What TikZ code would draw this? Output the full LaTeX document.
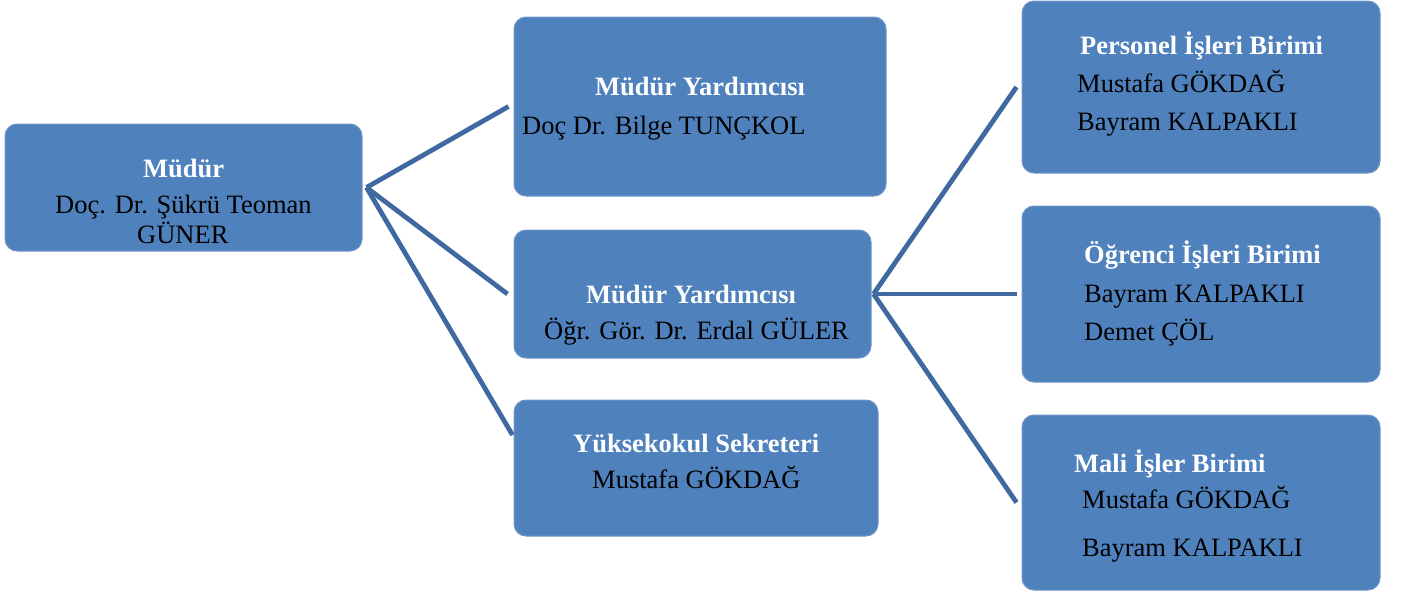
\documentclass[tikz,border=0pt]{standalone}
\usepackage{fontspec}
\setmainfont{Liberation Serif}
\usepackage{tikz}
\usetikzlibrary{positioning}
\definecolor{boxblue}{HTML}{4F81BD}
\definecolor{boxedge}{HTML}{7096C8}
\definecolor{linkblue}{HTML}{3F69A0}
\tikzset{>=stealth}

\begin{document}
\begin{tikzpicture}[x=1pt, y=-1pt,
    font=\fontsize{26.5pt}{32pt}\selectfont,
    unitbox/.style={draw=boxedge, line width=1pt, fill=boxblue, rounded corners=12pt, inner sep=0pt},
    heading/.style={anchor=base west, inner sep=0pt, text=white, font=\fontsize{26.5pt}{32pt}\selectfont\bfseries},
    person/.style={anchor=base west, inner sep=0pt, text=black},
    link/.style={draw=linkblue, line width=4.8pt}]

			\useasboundingbox (0,0) rectangle (1401,598);

			% kutular
			\node[unitbox, minimum width=357pt, minimum height=127pt] (mudur) at (183.5,187.5) {};
			\node[unitbox, minimum width=372pt, minimum height=179pt] (my1) at (700,106.5) {};
			\node[unitbox, minimum width=357pt, minimum height=128pt] (my2) at (692.5,294) {};
			\node[unitbox, minimum width=364pt, minimum height=136pt] (ys) at (696,468) {};
			\node[unitbox, minimum width=358pt, minimum height=172pt] (pib) at (1201,87) {};
			\node[unitbox, minimum width=358pt, minimum height=176pt] (oib) at (1201,294) {};
			\node[unitbox, minimum width=358pt, minimum height=175pt] (mib) at (1201,502.5) {};

			% yazilar
			\node[heading] (mudurT) at (143,177) {Müdür};
			\node[person] (mudurA) at (55,213) {Doç. Dr. Şükrü Teoman};
			\node[person] (mudurB) at (137,243) {GÜNER};

			\node[heading] (my1T) at (595,95) {Müdür Yardımcısı};
			\node[person] (my1A) at (522,134) {Doç Dr. Bilge TUNÇKOL};

			\node[heading] (my2T) at (586,303) {Müdür Yardımcısı};
			\node[person] (my2A) at (544,339) {Öğr. Gör. Dr. Erdal GÜLER};

			\node[heading] (ysT) at (573,452) {Yüksekokul Sekreteri};
			\node[person] (ysA) at (592,488) {Mustafa GÖKDAĞ};

			\node[heading] (pibT) at (1080,54) {Personel İşleri Birimi};
			\node[person] (pibA) at (1077,92) {Mustafa GÖKDAĞ};
			\node[person] (pibB) at (1077,130) {Bayram KALPAKLI};

			\node[heading] (oibT) at (1084,263) {Öğrenci İşleri Birimi};
			\node[person] (oibA) at (1084,302) {Bayram KALPAKLI};
			\node[person] (oibB) at (1084,340) {Demet ÇÖL};

			\node[heading] (mibT) at (1074,472) {Mali İşler Birimi};
			\node[person] (mibA) at (1082,508) {Mustafa GÖKDAĞ};
			\node[person] (mibB) at (1082,556) {Bayram KALPAKLI};

			% baglantilar
			\coordinate (hub1) at ([xshift=4pt]mudur.east);
			\coordinate (hub2) at ([xshift=2pt]my2.east);
			\draw[link] (hub1) -- ([xshift=-5pt]my1.west);
			\draw[link] (hub1) -- ([xshift=-6pt]my2.west);
			\draw[link] (hub1) -- ([xshift=-1pt, yshift=33pt]ys.west);
			\draw[link] (hub2) -- ([xshift=-5pt]pib.west);
			\draw[link] (hub2) -- ([xshift=-5pt]oib.west);
			\draw[link] (hub2) -- ([xshift=-5pt]mib.west);

\end{tikzpicture}
\end{document}
